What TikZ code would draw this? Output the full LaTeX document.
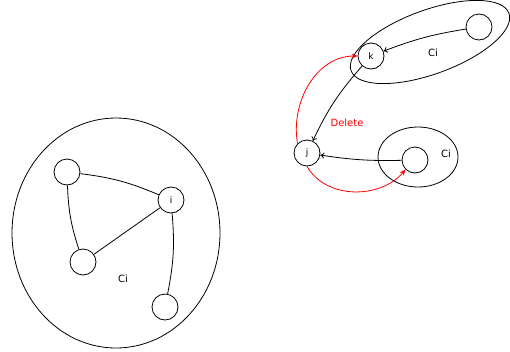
\documentclass[tikz,border=0pt]{standalone}
\usepackage{fontspec}
\setmainfont{DejaVu Sans}
\usetikzlibrary{arrows.meta}
\begin{document}
\begin{tikzpicture}[x=1pt,y=-1pt,
  vert/.style={circle,draw,line width=0.8pt,minimum size=26pt,inner sep=0pt,font=\fontsize{9}{10}\selectfont},
  lbl/.style={font=\fontsize{10}{12}\selectfont},
  cl/.style={draw,line width=0.8pt},
  edge/.style={line width=0.8pt},
  arr/.style={line width=0.8pt,-{To[length=4pt,width=6pt]}},
  rarr/.style={line width=0.8pt,red,-{Stealth[length=6pt,width=5pt]}}]
\useasboundingbox (0,0) rectangle (510,351);
% left cluster
\draw[cl] (116,233) ellipse [x radius=104,y radius=115];
\node[vert] (a) at (67,172) {};
\node[vert] (i) at (171,200) {i};
\node[vert] (b) at (83,262) {};
\node[vert] (c) at (165,307) {};
\node[lbl] (ci1) at (123,279) {Ci};
\draw[edge] (a) to[bend left=8] (i);
\draw[edge] (a) to[bend right=8] (b);
\draw[edge] (b) -- (i);
\draw[edge] (i) to[bend left=8] (c);
% right top cluster
\draw[cl,rotate around={20:(430,42)}] (430,42) ellipse [x radius=84,y radius=32];
\node[vert] (t) at (479,27) {};
\node[vert] (k) at (371,56) {k};
\node[lbl] (ci2) at (433,53) {Ci};
% right lower cluster
\draw[cl] (418,157) ellipse [x radius=40,y radius=30];
\node[vert] (l) at (415,160) {};
\node[lbl] (ci3) at (446,154) {Ci};
\node[vert] (j) at (307,153) {j};
\node[lbl,red] (del) at (347,123) {Delete};
\draw[arr] (t) to[bend right=6] (k);
\draw[arr] (k) to[bend right=8] (j);
\draw[arr] (l) to[bend left=5] (j);
\draw[rarr] (j.north west) to[out=100,in=180] (k.west);
\draw[rarr] (j.south) to[out=-60,in=-130] (l.south west);
\end{tikzpicture}
\end{document}
